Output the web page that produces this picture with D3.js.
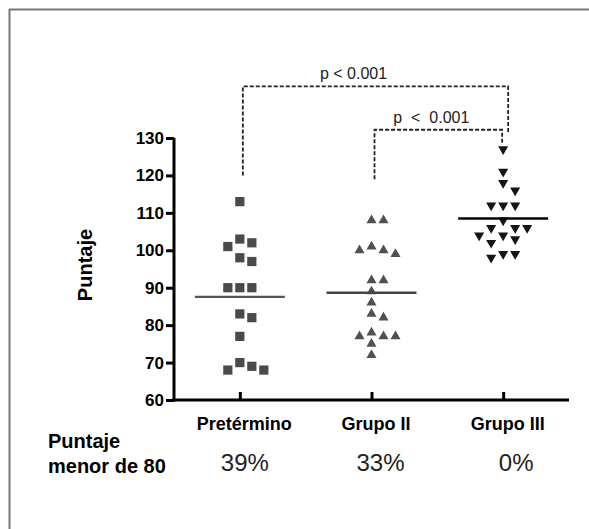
<!DOCTYPE html>
<html>
  <head>
    <meta charset="utf-8">
    <script src="https://d3js.org/d3.v7.min.js"></script>
    <style>
      body {
        margin: 0;
        background: #fff;
        font-family: "Liberation Sans", Arial, sans-serif;
      }
      .axis path, .axis line {
        stroke: #000;
        stroke-width: 3px;
      }
      .axis text {
        fill: #000;
        font-weight: bold;
        font-family: "Liberation Sans", Arial, sans-serif;
      }
      .bracket {
        fill: none;
        stroke: #222;
        stroke-width: 1.8px;
        stroke-dasharray: 4,2;
      }
    </style>
  </head>
  <body>
    <div id="chart"></div>
    <script>
      // groups and values
      var categories = ["Pretérmino", "Grupo II", "Grupo III"];
      var pretermino = [113, 103, 102, 101, 98, 97, 90, 90, 90, 83, 82, 77, 70, 69, 68, 68];
      var grupoII = [108, 108, 101, 100, 100, 99, 92, 92, 89, 86, 83, 82, 78, 77, 77, 77, 75, 72];
      var grupoIII = [127, 121, 118, 116, 112, 112, 112, 108, 106, 106, 106, 104, 104, 103, 102, 99, 99, 98];
      var yTicks = [60, 70, 80, 90, 100, 110, 120, 130];
      var percentLabels = ["39%", "33%", "0%"];
      var pLabel = ["p < 0.001", "p  <  0.001"];

      var width = 589, height = 529;

      var svg = d3.select("#chart").append("svg")
        .attr("width", width)
        .attr("height", height);

      // frame (top + left only visible)
      svg.append("line").attr("x1", 9).attr("y1", 9.5).attr("x2", width).attr("y2", 9.5)
        .attr("stroke", "#777").attr("stroke-width", 2);
      svg.append("line").attr("x1", 9.5).attr("y1", 9).attr("x2", 9.5).attr("y2", height)
        .attr("stroke", "#777").attr("stroke-width", 2);

      var x = d3.scalePoint().domain(categories).range([174, 569]).padding(0.5);
      var y = d3.scaleLinear().domain([60, 130]).range([400, 138]);

      var groups = [
        {name: categories[0], values: pretermino, shape: d3.symbolSquare, size: 85, color: "#4a4a4a", lineColor: "#555"},
        {name: categories[1], values: grupoII, shape: d3.symbolTriangle, size: 44, color: "#505050", lineColor: "#444"},
        {name: categories[2], values: grupoIII, shape: d3.symbolTriangle, size: 44, color: "#151515", lineColor: "#000", down: true}
      ];

      // simple dodge so points with close values sit side by side
      var slotW = 12;
      var order = [0, 1, -1, 2, -2, 3, -3];
      groups.forEach(function(g) {
        var placed = [];
        g.points = g.values.slice().sort(function(a, b) { return b - a; }).map(function(v) {
          var py = y(v);
          var slot = order.find(function(s) {
            return !placed.some(function(p) { return p.slot == s && Math.abs(p.py - py) < 9; });
          });
          var pt = {v: v, py: py, slot: slot};
          placed.push(pt);
          return pt;
        });
      });

      // y axis
      svg.append("g")
        .attr("class", "axis")
        .attr("transform", "translate(174,0)")
        .call(d3.axisLeft(y).tickValues(yTicks).tickSize(8).tickPadding(2))
        .call(function(g) {
          g.select(".domain").attr("d", "M0," + y(130) + "V" + (y(60) + 1.5));
          g.selectAll("text").style("font-size", "17px");
        });

      // x axis, ticks pointing up
      svg.append("g")
        .attr("class", "axis")
        .attr("transform", "translate(0,400)")
        .call(d3.axisBottom(x).tickSizeInner(-8).tickSizeOuter(0).tickPadding(17))
        .call(function(g) {
          g.select(".domain").attr("d", "M172.5,0H569");
          g.selectAll("text").style("font-size", "18px").attr("dx", 4);
        });

      svg.append("text")
        .attr("transform", "translate(92,265) rotate(-90)")
        .attr("text-anchor", "middle")
        .style("font-size", "20px")
        .style("font-weight", "bold")
        .text("Puntaje");

      // points
      groups.forEach(function(g) {
        var cx = x(g.name);
        svg.append("g").selectAll("path")
          .data(g.points)
          .enter().append("path")
          .attr("d", d3.symbol().type(g.shape).size(g.size))
          .attr("transform", function(d) {
            return "translate(" + (cx + d.slot * slotW) + "," + d.py + ")" + (g.down ? " rotate(180)" : "");
          })
          .attr("fill", g.color);

        var m = d3.mean(g.values);
        svg.append("line")
          .attr("x1", cx - 45).attr("x2", cx + 45)
          .attr("y1", y(m)).attr("y2", y(m))
          .attr("stroke", g.lineColor)
          .attr("stroke-width", 2.4);
      });

      // significance brackets
      var brackets = [
        {from: categories[0], to: categories[2], top: 143.8, left: 120, right: 131.3, label: pLabel[0], dx: -22, ty: 145.8, fx: 3, tx: 5},
        {from: categories[1], to: categories[2], top: 132.2, left: 119, right: 128.6, label: pLabel[1], dx: -7, ty: 134, fx: 3, tx: -1}
      ];
      brackets.forEach(function(b) {
        var x1 = x(b.from) + b.fx, x2 = x(b.to) + b.tx;
        svg.append("path")
          .attr("class", "bracket")
          .attr("d", "M" + x1 + "," + y(b.left) + "V" + y(b.top) + "H" + x2 + "V" + y(b.right));
        svg.append("text")
          .attr("x", (x1 + x2) / 2 + b.dx)
          .attr("y", y(b.ty))
          .attr("text-anchor", "middle")
          .style("font-size", "16px")
          .style("white-space", "pre")
          .attr("fill", "#222")
          .text(b.label);
      });

      // bottom row
      var note = svg.append("text")
        .attr("x", 48)
        .style("font-size", "20px")
        .style("font-weight", "bold");
      note.append("tspan").attr("x", 48).attr("y", 448).text("Puntaje");
      note.append("tspan").attr("x", 48).attr("y", 473).text("menor de 80");

      svg.append("g").selectAll("text")
        .data(percentLabels)
        .enter().append("text")
        .attr("x", function(d, i) { return x(categories[i]) + 5 + i * 4; })
        .attr("y", 471)
        .attr("text-anchor", "middle")
        .style("font-size", "24px")
        .attr("fill", "#222")
        .text(function(d) { return d; });
    </script>
  </body>
</html>
